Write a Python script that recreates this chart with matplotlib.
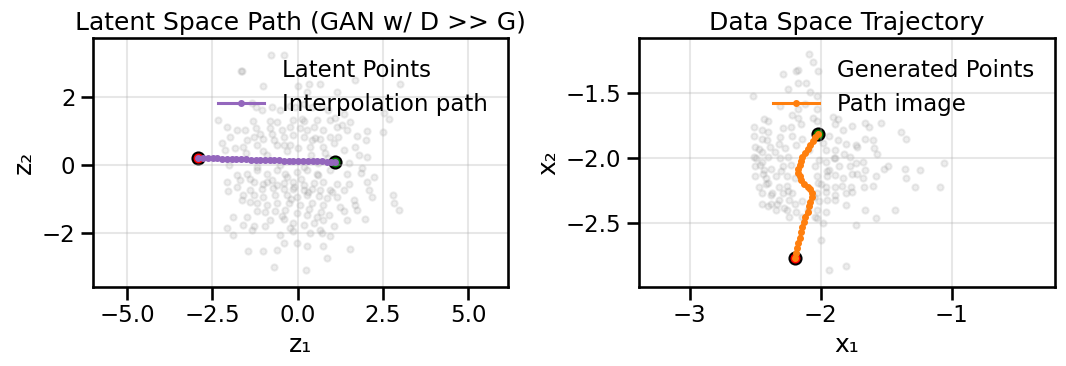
import matplotlib
matplotlib.use("Agg")
import matplotlib.pyplot as plt
import seaborn as sns

# latent cloud (z1, z2)
latent_z1 = [-0.79, -0.39, -1.63, -1.00, 0.00, 0.35, 0.65, 1.67, 3.01, 1.17, 0.29,
             -1.34, -1.22, -1.05, -0.75, -0.51, -0.22, -0.07, 0.18, 0.42, 0.71, 0.88, 1.11,
             -2.32, -1.31, -0.80, -0.61, -0.12, 0.13, 0.57, 0.96, 1.35, 1.55, 2.67, 2.52,
             -2.07, -1.78, -1.54, -1.21, -1.10, -0.75, -0.46, -0.22, 0.08, 0.27, 0.47, 0.76,
             1.15, 1.30, 1.45, 2.04, 2.50, -2.22, -1.98, -1.49, -1.29, -1.00, -0.70, -0.41,
             -0.12, 0.18, 0.42, 0.67, 0.96, 1.20, 1.74, 2.02, -2.12, -1.83, -1.59, -1.19,
             -0.61, -0.22, 0.37, 0.76, 1.06, 1.35, 1.69, 2.04, 1.79,
             -1.50, -0.90, -0.30, 0.40, 0.80, -1.20, -0.50, 0.20, 0.60, 1.50, 1.90, -2.00,
             -1.78, -1.49, -1.19, -0.90, -0.61, -0.36, -0.02, 0.27, 0.57, 0.96, 1.45, 1.86,
             2.23, -2.07, -1.68, -1.29, -1.00, -0.75, -0.41, -0.12, 0.18, 0.47, 0.76, 1.15,
             1.50, 2.04, -1.78, -1.39, -1.05, -0.72, -0.41, -0.12, 0.18, 0.42, 0.67, 0.96,
             1.35, 2.08, -2.03, -1.59, -1.29, -1.00, -0.66, -0.31, -0.02, 0.27, 0.62, 0.86,
             1.15, 1.64, 2.18, 2.80, -1.63, -1.39, -1.19, -0.90, -0.61, -0.26, 0.08, 0.42,
             0.76, 1.25, 1.69, 2.84, 2.96, -1.19, -0.95, -0.66, -0.36, -0.02, 0.27, 0.57,
             0.91, 1.35, 1.74, -1.88, -1.49, -0.80, -0.41, -0.12, 0.47, 0.76, 1.45, 1.99,
             -2.07, -1.59, -1.29, -0.95, -0.22, 0.18, 0.67, 1.06, -1.88, -1.34, -0.51, -0.12,
             0.37, 0.71, 0.96, -0.02, 0.27, -0.41, -1.44, -1.00, -0.61, 0.76, 1.55, 0.86,
             -0.70, 0.25,
             -0.30, 0.10, -0.60, 0.30, -0.20, 0.60, -0.90, 0.00, -0.40, 0.50,
             -0.80, 0.20, 0.90, -1.00, -0.10, 0.35, -0.45, 1.00, -1.40, 0.70]
latent_z2 = [3.26, 3.26, 2.79, 2.32, 2.32, 2.40, 2.40, 2.52, 2.40, 2.15, 2.16,
             1.83, 1.72, 1.62, 1.70, 1.62, 1.74, 1.70, 1.81, 1.70, 1.75, 1.62, 1.40,
             1.32, 1.30, 1.30, 1.27, 1.32, 1.37, 1.32, 1.34, 1.52, 1.27, 1.37, 1.54,
             1.13, 1.03, 1.03, 1.08, 0.93, 0.93, 1.03, 1.13, 1.08, 1.03, 1.13, 1.03,
             1.13, 1.18, 1.03, 1.01, 0.98, 0.64, 0.83, 0.74, 0.83, 0.78, 0.74, 0.83,
             0.88, 0.83, 0.74, 0.78, 0.83, 0.83, 0.85, 0.75, 0.44, 0.49, 0.54, 0.59,
             0.59, 0.59, 0.54, 0.54, 0.64, 0.44, 0.52, 0.25, 0.29,
             0.35, 0.30, 0.40, 0.30, 0.35, -0.05, 0.00, -0.05, 0.05, 0.05, -0.10, 0.00,
             -0.29, -0.25, -0.15, -0.25, -0.15, -0.25, -0.20, -0.15, -0.25, -0.15, -0.25, -0.23,
             -0.36, -0.49, -0.44, -0.49, -0.56, -0.44, -0.54, -0.49, -0.59, -0.54, -0.49, -0.56,
             -0.56, -0.49, -0.64, -0.74, -0.72, -0.69, -0.72, -0.72, -0.74, -0.72, -0.75, -0.74,
             -0.74, -0.74, -0.78, -0.88, -0.88, -0.93, -0.88, -0.88, -0.93, -0.88, -0.90, -0.98,
             -0.93, -1.03, -0.95, -0.88, -1.03, -1.08, -1.13, -1.18, -1.13, -1.13, -1.18, -1.13,
             -1.18, -1.23, -1.18, -1.13, -1.32, -1.37, -1.40, -1.37, -1.32, -1.42, -1.47, -1.52,
             -1.47, -1.37, -1.32, -1.52, -1.52, -1.62, -1.60, -1.72, -1.72, -1.62, -1.62, -1.60,
             -1.86, -1.76, -1.81, -1.81, -1.86, -1.76, -1.91, -1.81, -2.06, -1.91, -2.06, -1.96,
             -2.01, -2.01, -2.11, -2.30, -2.40, -2.30, -2.55, -2.55, -2.50, -2.40, -2.48, -2.75,
             -3.01, -3.09,
             -0.35, -0.40, -0.60, -0.80, -1.00, -0.30, -0.50, 0.50, 0.60, 0.80,
             1.10, 1.30, 0.20, 0.40, -0.65, -1.30, -1.50, -0.80, -0.40, -1.40]

# interpolation path in latent space
path_z1 = [-2.91, -2.77, -2.63, -2.49, -2.35, -2.21, -2.07, -1.93, -1.79, -1.65,
           -1.51, -1.37, -1.23, -1.10, -0.96, -0.82, -0.68, -0.54, -0.40, -0.26,
           -0.12, 0.02, 0.16, 0.30, 0.44, 0.57, 0.71, 0.85, 0.98, 1.11]
path_z2 = [0.22, 0.21, 0.21, 0.20, 0.20, 0.19, 0.19, 0.18, 0.18, 0.17,
           0.17, 0.16, 0.16, 0.15, 0.15, 0.14, 0.14, 0.14, 0.13, 0.13,
           0.13, 0.12, 0.12, 0.12, 0.11, 0.11, 0.11, 0.10, 0.10, 0.10]

# generated points (x1, x2)
gen_x1 = [-2.09, -2.06, -2.17, -2.02, -2.29, -2.17, -2.11, -2.25, -2.08, -2.52, -2.03,
          -2.31, -2.17, -2.12, -2.03, -2.22, -2.17, -2.06, -2.43, -2.40, -2.03, -1.91,
          -1.87, -1.83, -1.76, -1.66, -1.54, -1.63, -2.51, -2.45, -2.29, -2.23, -2.15,
          -1.89, -1.39, -1.35, -1.66, -1.60, -2.51, -2.41, -2.31, -2.22, -2.14, -1.94,
          -1.87, -1.81, -1.73, -2.50, -2.45, -2.39, -2.32, -2.27, -2.19, -2.09, -1.96,
          -1.89, -1.82, -1.72, -1.59, -1.57, -2.51, -2.45, -2.40, -2.31, -2.25, -2.01,
          -1.96, -1.89, -1.78, -1.73, -1.68, -1.52, -1.49, -1.36, -1.24, -1.06, -2.50,
          -2.43, -2.38, -2.29, -2.23, -2.04, -1.94, -1.86, -1.78, -1.72, -1.66, -1.35,
          -2.50, -2.42, -2.34, -2.26, -2.20, -2.03, -1.95, -1.89, -1.83, -1.76, -1.68,
          -1.58, -2.47, -2.40, -2.32, -2.26, -2.02, -1.96, -1.89, -1.84, -1.77, -1.67,
          -1.60, -1.28, -1.09, -2.45, -2.37, -2.29, -2.22, -2.03, -1.96, -1.89, -1.81,
          -1.76, -2.45, -2.38, -2.32, -2.24, -2.14, -2.01, -1.95, -1.89, -1.81, -2.40,
          -2.34, -2.26, -2.19, -2.03, -1.96, -1.66, -1.58, -1.43, -2.24, -2.14, -2.04,
          -1.98, -1.73, -2.03, -2.00, -1.81, -1.94,
          -2.47, -2.49, -2.46, -2.44, -2.42, -2.38, -2.33, -2.28, -2.45, -2.40,
          -2.35, -2.30, -2.25, -2.20, -2.10, -2.00, -1.95, -1.90, -1.98, -2.05]
gen_x2 = [-1.20, -1.26, -1.32, -1.33, -1.35, -1.42, -1.42, -1.47, -1.49, -1.52, -1.52,
          -1.60, -1.62, -1.58, -1.62, -1.67, -1.69, -1.69, -1.70, -1.71, -1.71, -1.68,
          -1.70, -1.78, -1.75, -1.73, -1.73, -1.76, -1.76, -1.78, -1.77, -1.76, -1.74,
          -1.74, -1.80, -1.85, -1.85, -1.86, -1.83, -1.86, -1.84, -1.83, -1.85, -1.83,
          -1.86, -1.89, -1.90, -1.91, -1.95, -1.91, -1.89, -1.92, -1.90, -1.94, -1.94,
          -1.94, -1.97, -1.91, -1.92, -1.97, -1.99, -2.03, -1.99, -2.00, -1.99, -2.01,
          -2.03, -2.00, -1.99, -2.04, -2.03, -2.08, -2.06, -2.08, -2.09, -2.04, -2.06,
          -2.09, -2.08, -2.06, -2.05, -2.06, -2.09, -2.06, -2.06, -2.12, -2.09, -2.15,
          -2.14, -2.15, -2.14, -2.14, -2.15, -2.14, -2.14, -2.13, -2.15, -2.12, -2.15,
          -2.14, -2.22, -2.19, -2.22, -2.21, -2.19, -2.22, -2.22, -2.21, -2.22, -2.22,
          -2.21, -2.22, -2.22, -2.27, -2.27, -2.27, -2.27, -2.27, -2.26, -2.28, -2.27,
          -2.26, -2.35, -2.35, -2.32, -2.32, -2.33, -2.33, -2.32, -2.32, -2.36, -2.37,
          -2.40, -2.40, -2.41, -2.40, -2.41, -2.40, -2.46, -2.40, -2.45, -2.45, -2.45,
          -2.50, -2.51, -2.46, -2.63, -2.83, -2.86,
          -1.93, -2.00, -2.05, -2.12, -2.20, -2.28, -2.35, -2.38, -1.85, -1.80,
          -1.95, -2.10, -2.25, -2.35, -2.40, -2.20, -2.10, -2.00, -1.88, -2.30]

# image of the interpolation path in data space
traj_x1 = [-2.20, -2.19, -2.18, -2.17, -2.16, -2.15, -2.14, -2.13, -2.12, -2.10,
           -2.09, -2.08, -2.07, -2.07, -2.08, -2.10, -2.13, -2.15, -2.16, -2.17,
           -2.17, -2.16, -2.15, -2.14, -2.12, -2.10, -2.08, -2.06, -2.04, -2.02]
traj_x2 = [-2.77, -2.73, -2.69, -2.65, -2.61, -2.57, -2.53, -2.49, -2.45, -2.41,
           -2.37, -2.34, -2.30, -2.27, -2.24, -2.22, -2.20, -2.17, -2.14, -2.11,
           -2.08, -2.05, -2.02, -1.99, -1.96, -1.93, -1.90, -1.87, -1.84, -1.81]

sns.set_context("talk")

fig = plt.figure(figsize=(10.66, 3.66), dpi=100)
ax1 = fig.add_axes([0.087, 0.216, 0.390, 0.680])
ax2 = fig.add_axes([0.599, 0.216, 0.391, 0.680])

# left: latent space
ax1.scatter(latent_z1, latent_z2, s=20, color="gray", alpha=0.14, label="Latent Points")
ax1.scatter(path_z1[0], path_z2[0], s=75, color="red", edgecolor="k")
ax1.scatter(path_z1[-1], path_z2[-1], s=75, color="green", edgecolor="k")
ax1.plot(path_z1, path_z2, "o-", color="tab:purple", lw=2.2, ms=4, label="Interpolation path")
ax1.set_xlim(-6.0, 6.18)
ax1.set_ylim(-3.6, 3.75)
ax1.set_xticks([-5.0, -2.5, 0.0, 2.5, 5.0])
ax1.set_yticks([-2, 0, 2])
ax1.set_title("Latent Space Path (GAN w/ D >> G)")
ax1.set_xlabel("z\u2081")
ax1.set_ylabel("z\u2082")
ax1.grid(alpha=0.3)
ax1.legend(loc="upper right", frameon=False)

# right: data space
ax2.scatter(gen_x1, gen_x2, s=20, color="gray", alpha=0.14, label="Generated Points")
ax2.scatter(traj_x1[0], traj_x2[0], s=75, color="red", edgecolor="k")
ax2.scatter(traj_x1[-1], traj_x2[-1], s=75, color="green", edgecolor="k")
ax2.plot(traj_x1, traj_x2, "o-", color="tab:orange", lw=2.2, ms=4, label="Path image")
ax2.set_xlim(-3.39, -0.21)
ax2.set_ylim(-2.99, -1.075)
ax2.set_xticks([-3, -2, -1])
ax2.set_yticks([-2.5, -2.0, -1.5])
ax2.set_title("Data Space Trajectory")
ax2.set_xlabel("x\u2081")
ax2.set_ylabel("x\u2082")
ax2.grid(alpha=0.3)
ax2.legend(loc="upper right", frameon=False)

fig.savefig("out.png", dpi=100)
